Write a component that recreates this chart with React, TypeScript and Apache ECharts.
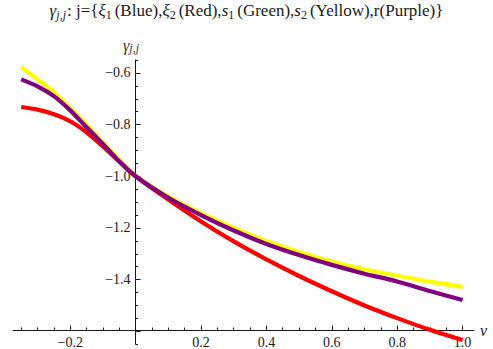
import React, { useEffect, useRef } from 'react';
import * as echarts from 'echarts';

const nu = [-0.35, -0.3, -0.25, -0.2, -0.15, -0.1, -0.05, 0, 0.1, 0.2, 0.3, 0.4, 0.5, 0.6, 0.7, 0.8, 0.9, 1.0];
const xi2Red = [-0.732, -0.742, -0.76, -0.787, -0.83, -0.885, -0.943, -1.0, -1.09, -1.175, -1.252, -1.322, -1.386, -1.445, -1.5, -1.549, -1.594, -1.634];
const s2Yellow = [-0.578, -0.625, -0.675, -0.735, -0.8, -0.868, -0.937, -1.0, -1.078, -1.143, -1.2, -1.25, -1.293, -1.33, -1.36, -1.385, -1.408, -1.428];
const rPurple = [-0.625, -0.652, -0.69, -0.745, -0.81, -0.875, -0.942, -1.0, -1.083, -1.15, -1.21, -1.262, -1.305, -1.343, -1.377, -1.407, -1.444, -1.479];

const xMajorTicks = [-0.2, 0, 0.2, 0.4, 0.6, 0.8, 1.0];
const xTickLabels = [-0.2, 0.2, 0.4, 0.6, 0.8, 1.0];
const xMinorTicks = [-0.35, -0.3, -0.25, -0.15, -0.1, -0.05, 0.05, 0.1, 0.15, 0.25, 0.3, 0.35, 0.45, 0.5, 0.55, 0.65, 0.7, 0.75, 0.85, 0.9, 0.95];
const yMajorTicks = [-1.6, -1.4, -1.2, -1.0, -0.8, -0.6];
const yTickLabels = [-1.4, -1.2, -1.0, -0.8, -0.6];
const yMinorTicks = [-1.65, -1.55, -1.5, -1.45, -1.35, -1.3, -1.25, -1.15, -1.1, -1.05, -0.95, -0.9, -0.85, -0.75, -0.7, -0.65, -0.55];

const FONT = 'Liberation Serif';
const INK = '#1a1a1a';

const fmt = (v: number) => (v < 0 ? '\u2212' : '') + Math.abs(v).toFixed(1);

const pairs = (ys: number[]) => nu.map((x, i) => [x, ys[i]]);

const rich = {
  ig: { fontFamily: FONT, fontStyle: 'italic', fontSize: 17, color: INK, lineHeight: 21, verticalAlign: 'middle' },
  n: { fontFamily: FONT, fontSize: 17, color: INK, lineHeight: 21, verticalAlign: 'middle' },
  sub: { fontFamily: FONT, fontStyle: 'italic', fontSize: 12, color: INK, lineHeight: 12, verticalAlign: 'bottom', padding: [0, 1, 0, 0] },
  subn: { fontFamily: FONT, fontSize: 12, color: INK, lineHeight: 12, verticalAlign: 'bottom', padding: [0, 3, 0, 0] },
};

const GRID_LEFT = 13;
const GRID_RIGHT = 19;
const X_MIN = -0.375;
const X_MAX = 1.035;
const Y_AXIS_OFFSET = -((0 - X_MIN) / (X_MAX - X_MIN)) * (493 - GRID_LEFT - GRID_RIGHT);

export default function App() {
  const ref = useRef<HTMLDivElement>(null);
  useEffect(() => {
    if (!ref.current) return;
    const chart = echarts.init(ref.current, undefined, { renderer: 'svg' });
    const common = { type: 'value', min: X_MIN, max: X_MAX };
    const ycommon = { type: 'value', min: -1.65, max: -0.55 };
    chart.setOption({
      animation: false,
      backgroundColor: '#ffffff',
      title: {
        text: '{ig|\u03b3}{sub|j,j}{n|: j={}{ig|\u03be}{subn|1}{n|(Blue),}{ig|\u03be}{subn|2}{n|(Red),}{ig|s}{subn|1}{n|(Green),}{ig|s}{subn|2}{n|(Yellow),r(Purple)}}',
        left: 'center',
        top: 0,
        padding: 0,
        textStyle: { fontFamily: FONT, fontSize: 17, fontWeight: 'normal', color: INK, lineHeight: 21, rich },
      },
      graphic: [
        {
          type: 'text',
          x: 123,
          y: 45,
          style: {
            text: '{ig|\u03b3}{sub|j,j}',
            rich: {
              ig: { fontFamily: FONT, fontStyle: 'italic', fontSize: 16, fill: '#333', lineHeight: 17, verticalAlign: 'middle' },
              sub: { fontFamily: FONT, fontStyle: 'italic', fontSize: 12, fill: '#333', lineHeight: 11, verticalAlign: 'bottom' },
            },
            verticalAlign: 'middle',
            fill: '#333',
          },
        },
      ],
      grid: { left: GRID_LEFT, right: GRID_RIGHT, top: 60, bottom: 4.8, outerBoundsMode: 'none', containLabel: false },
      xAxis: [
        {
          ...common,
          position: 'bottom',
          offset: -14.2,
          axisLine: { onZero: false, lineStyle: { color: INK, width: 1 } },
          axisTick: { inside: true, length: 4.5, customValues: xMajorTicks, lineStyle: { color: INK, width: 1 } },
          axisLabel: { customValues: xTickLabels, formatter: fmt, fontFamily: FONT, fontSize: 14, color: INK, margin: 5 },
          splitLine: { show: false },
          name: '\u03bd',
          nameLocation: 'end',
          nameGap: 6,
          nameTextStyle: { fontFamily: FONT, fontStyle: 'italic', fontSize: 16, color: INK },
        },
        {
          ...common,
          position: 'bottom',
          offset: -14.2,
          axisLine: { show: false, onZero: false },
          axisTick: { inside: true, length: 2.5, customValues: xMinorTicks, lineStyle: { color: INK, width: 1 } },
          axisLabel: { show: false },
          splitLine: { show: false },
        },
      ],
      yAxis: [
        {
          ...ycommon,
          position: 'left',
          offset: Y_AXIS_OFFSET,
          axisLine: { show: true, onZero: false, lineStyle: { color: INK, width: 1 } },
          axisTick: { inside: true, length: 5, customValues: yMajorTicks, lineStyle: { color: INK, width: 1 } },
          axisLabel: { customValues: yTickLabels, formatter: fmt, fontFamily: FONT, fontSize: 14, color: INK, margin: 5 },
          splitLine: { show: false },
        },
        {
          ...ycommon,
          position: 'left',
          offset: Y_AXIS_OFFSET,
          axisLine: { show: false, onZero: false },
          axisTick: { inside: true, length: 2.5, customValues: yMinorTicks, lineStyle: { color: INK, width: 1 } },
          axisLabel: { show: false },
          splitLine: { show: false },
        },
      ],
      series: [
        { name: '\u03be2', type: 'line', data: pairs(xi2Red), smooth: 0.3, showSymbol: false, lineStyle: { color: '#ff0000', width: 4.2 } },
        { name: 's2', type: 'line', data: pairs(s2Yellow), smooth: 0.3, showSymbol: false, lineStyle: { color: '#ffff00', width: 4.2 } },
        { name: 'r', type: 'line', data: pairs(rPurple), smooth: 0.3, showSymbol: false, lineStyle: { color: '#800080', width: 4.2 } },
      ],
    });
    return () => chart.dispose();
  }, []);
  return <div ref={ref} style={{ position: 'absolute', left: 0, top: 0, width: 493, height: 349 }} />;
}
